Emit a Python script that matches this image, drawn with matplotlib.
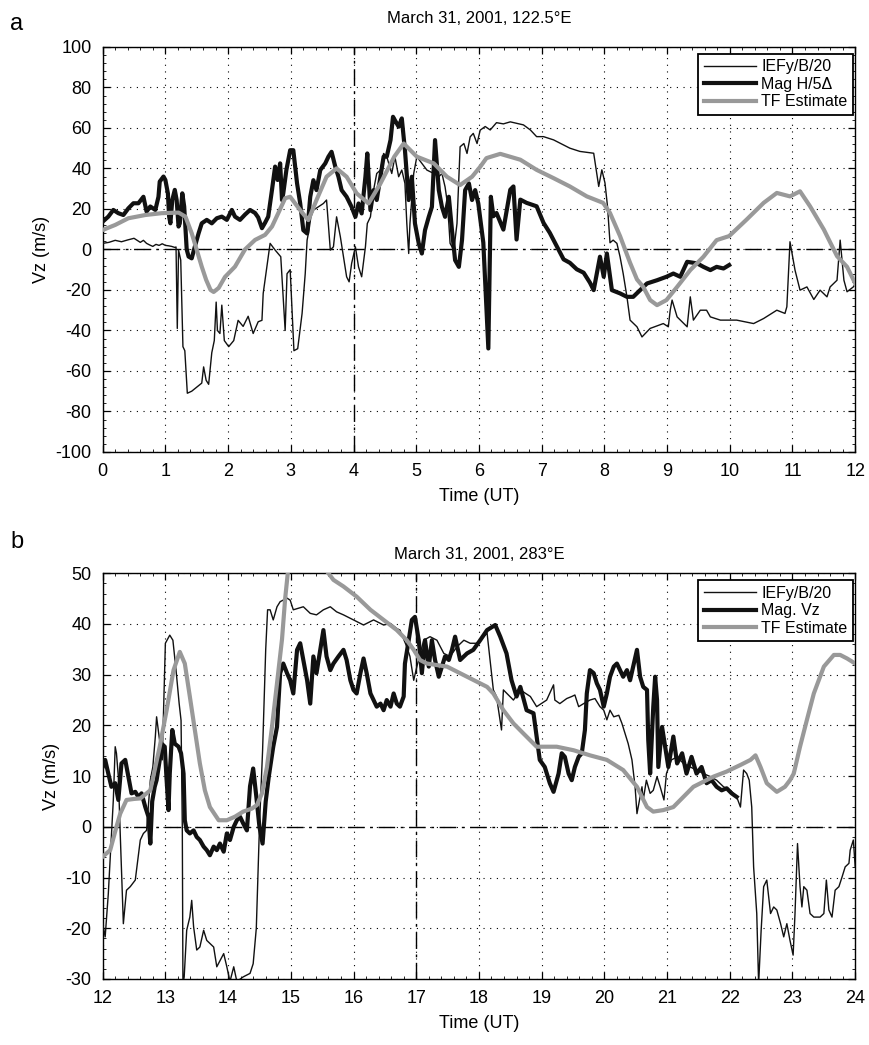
import numpy as np
import matplotlib
matplotlib.use("Agg")
import matplotlib.pyplot as plt
from matplotlib.ticker import MultipleLocator, AutoMinorLocator

plt.rcParams['font.family'] = ['Liberation Sans', 'DejaVu Sans']
plt.rcParams['axes.unicode_minus'] = False

######### panel a : March 31, 2001, 122.5E (0-12 UT)
# IEFy/B/20 (thin black)
t_a_ief = [0.0, 0.1, 0.2, 0.3, 0.4, 0.5, 0.55, 0.6, 0.65, 0.7, 0.75, 0.8, 0.85, 0.9, 0.95, 1.0,
           1.05, 1.1, 1.15, 1.17, 1.19, 1.21, 1.245, 1.28, 1.31, 1.35, 1.42, 1.5, 1.58, 1.61,
           1.65, 1.69, 1.74, 1.78, 1.81, 1.83, 1.87, 1.9, 1.94, 2.01, 2.09, 2.16, 2.24, 2.32,
           2.4, 2.48, 2.54, 2.56, 2.59, 2.62, 2.67, 2.75, 2.84, 2.91, 2.94, 2.99, 3.05, 3.11,
           3.18, 3.23, 3.26, 3.29, 3.32, 3.36, 3.52, 3.57, 3.63, 3.68, 3.73, 3.79, 3.84, 3.89,
           3.93, 3.97, 4.03, 4.08, 4.13, 4.19, 4.22, 4.27, 4.32, 4.37, 4.43, 4.48, 4.53, 4.61,
           4.66, 4.72, 4.77, 4.82, 4.85, 4.88, 4.9, 4.96, 5.01, 5.09, 5.17, 5.28, 5.36, 5.41,
           5.46, 5.49, 5.52, 5.54, 5.6, 5.65, 5.7, 5.76, 5.81, 5.86, 5.91, 5.97, 6.02, 6.1,
           6.18, 6.28, 6.39, 6.5, 6.6, 6.71, 6.82, 6.92, 7.03, 7.19, 7.35, 7.45, 7.61, 7.83,
           7.91, 7.96, 8.01, 8.05, 8.09, 8.14, 8.2, 8.25, 8.3, 8.36, 8.41, 8.52, 8.6, 8.73,
           8.94, 9.02, 9.05, 9.08, 9.16, 9.32, 9.37, 9.42, 9.53, 9.63, 9.69, 9.85, 10.11, 10.38,
           10.54, 10.75, 10.88, 10.91, 10.96, 11.04, 11.12, 11.23, 11.34, 11.44, 11.55, 11.6,
           11.71, 11.76, 11.82, 11.87, 11.97, 12.0]
v_a_ief = [3.0, 3.5, 4.5, 3.8, 4.7, 5.5, 4.5, 3.5, 4.5, 3.0, 2.2, 1.5, 2.5, 2.0, 2.8, 2.0,
           1.8, 1.5, 1.0, 1.2, -39, -0.3, -5.3, -48, -50, -71, -70, -68, -66, -58,
           -64.6, -66.6, -51, -45, -26, -40, -41.5, -27.5, -45, -48, -45, -35, -38, -33,
           -41.5, -35.7, -35, -21.7, -15, -8.6, 3, -0.3, -3.6, -40, -12, -10, -50, -49,
           -31.6, -12, 4.6, 9.5, 16, 19.4, 22.7, 24.4, -0.3, 1.3, 16.1, 6.3, -3.6, -13.5,
           -16, -6.9, 1.3, -8.6, -13.5, 1.3, 12.8, 16.1, 29.3, 37.5, 39.2, 47.4, 45.8, 37.5,
           45.8, 35.9, 39.2, 32.6, 12.8, -2, 12.8, 37.5, 45.8, 42.5, 39.2, 37.5, 35.9, 37.5,
           30.9, 24.4, 12.8, 3, -0.3, 12.8, 50.7, 52.3, 47.4, 55.6, 57.3, 52.3, 58.9, 60.7,
           59, 62.6, 62, 63, 62.3, 61.5, 59, 55.7, 55.7, 54.1, 51.6, 50, 48.4, 47.5,
           31.1, 39.3, 32.8, 21.3, 3.3, 4.6, 3, -3.6, -11.9, -23.4, -34.9, -38.2, -43.2, -39,
           -36.6, -38.2, -30, -25, -33.3, -38.2, -23.4, -34.9, -30, -30, -33.3, -34.9, -34.9, -36.6,
           -34.1, -30, -31.6, -28.3, 3.8, -10.2, -20.1, -18.5, -24.7, -20.1, -23.4, -18.5,
           -15.2, 4.6, -15.2, -20.9, -18.5, -17]

# Mag H/5Delta (thick black)
t_a_mag = [0.0, 0.09, 0.17, 0.25, 0.33, 0.41, 0.49, 0.57, 0.65, 0.7, 0.76, 0.84, 0.89, 0.91,
           0.97, 1.0, 1.04, 1.06, 1.08, 1.11, 1.15, 1.18, 1.21, 1.23, 1.27, 1.3, 1.34, 1.37,
           1.42, 1.47, 1.53, 1.58, 1.66, 1.74, 1.82, 1.9, 1.98, 2.06, 2.11, 2.19, 2.27, 2.35,
           2.43, 2.48, 2.54, 2.59, 2.64, 2.7, 2.75, 2.79, 2.83, 2.86, 2.88, 2.93, 2.99, 3.04,
           3.1, 3.15, 3.2, 3.26, 3.31, 3.36, 3.41, 3.47, 3.55, 3.6, 3.65, 3.71, 3.76, 3.81,
           3.89, 3.97, 4.03, 4.08, 4.13, 4.19, 4.22, 4.27, 4.32, 4.37, 4.43, 4.48, 4.53, 4.59,
           4.63, 4.66, 4.72, 4.77, 4.82, 4.88, 4.93, 4.98, 5.04, 5.09, 5.14, 5.2, 5.25, 5.3,
           5.36, 5.41, 5.46, 5.52, 5.57, 5.62, 5.68, 5.73, 5.78, 5.84, 5.89, 5.94, 5.99, 6.07,
           6.15, 6.19, 6.23, 6.28, 6.39, 6.5, 6.55, 6.6, 6.66, 6.76, 6.92, 7.03, 7.13, 7.24,
           7.35, 7.45, 7.56, 7.67, 7.77, 7.83, 7.93, 7.99, 8.04, 8.12, 8.25, 8.36, 8.46, 8.57,
           8.68, 8.84, 8.99, 9.1, 9.21, 9.32, 9.48, 9.58, 9.69, 9.79, 9.9, 9.99]
v_a_mag = [13.7, 16.2, 19.5, 17.9, 17.0, 20.3, 22.8, 22.8, 26.0, 18.7, 21.2, 19.5, 26.0, 33.5,
           36.0, 34.3, 27.7, 16.2, 12.9, 24.4, 29.4, 24.4, 11.3, 12.9, 27.7, 21.2, 0, -3.5,
           -4.4, 1.4, 8.0, 12.9, 14.6, 12.9, 15.4, 16.2, 14.6, 19.5, 16.2, 14.6, 17.2, 19.5,
           18.0, 15.8, 10.5, 13.2, 16.2, 29.4, 40.9, 34.3, 42.5, 24.4, 27.7, 39.3, 49, 49,
           32.6, 22.7, 9.5, 7.9, 26, 34.2, 29.3, 39.2, 42.5, 45.8, 48.2, 40.8, 35.9, 29.3,
           26, 21, 16.1, 22.7, 17.8, 35.9, 47.4, 19.4, 29.3, 24.4, 35.9, 45.8, 45.8, 54,
           65.5, 63.8, 60.6, 64.7, 49.1, 24.4, 35.9, 12.8, 3, -2, 9.5, 16.1, 21, 54,
           29.3, 21, 16.1, 26, 9.5, -5.3, -8.6, 4.6, 29.3, 32.6, 24.4, 29.3, 22.7, 3.3,
           -48.9, 26, 16.4, 18, 9.8, 29.5, 31.1, 4.9, 24.6, 23, 21.3, 13.1, 8.2, 1.6,
           -4.9, -6.6, -9.8, -11.5, -16.4, -20.1, -3.6, -13.5, -2, -20.1, -21.7, -23.4, -23.4, -20.1,
           -16.8, -15.2, -13.5, -11.9, -13.5, -6.1, -6.9, -8.6, -10.2, -8.6, -9.4, -7.7]

# TF Estimate (grey)
t_a_tf = [0.0, 0.2, 0.41, 0.68, 0.94, 1.21, 1.32, 1.42, 1.5, 1.58, 1.65, 1.72, 1.77, 1.85,
          1.95, 2.11, 2.27, 2.43, 2.59, 2.7, 2.8, 2.91, 2.99, 3.15, 3.28, 3.41, 3.57, 3.73,
          3.89, 4.05, 4.24, 4.43, 4.65, 4.8, 5.01, 5.28, 5.49, 5.7, 5.89, 6.02, 6.12, 6.34,
          6.66, 6.92, 7.19, 7.45, 7.72, 7.98, 8.09, 8.25, 8.41, 8.52, 8.62, 8.73, 8.84, 8.99,
          9.16, 9.37, 9.58, 9.79, 9.99, 10.27, 10.54, 10.75, 10.96, 11.12, 11.28, 11.5, 11.71,
          11.87, 12.0]
v_a_tf = [9.6, 12.1, 15.4, 17.0, 17.9, 18.2, 16.2, 8.0, -0.2, -8.5, -15, -20, -21, -19,
          -13.6, -8.5, 0, 4.7, 7.2, 11.3, 17.9, 25.3, 26, 19.4, 14.5, 24.4, 35.9, 40,
          35.9, 27.7, 22.7, 32.6, 45.8, 52.3, 45.8, 42.5, 35.9, 31.8, 35.9, 40.8, 45.1, 47.2,
          44.3, 39.3, 35.2, 31.1, 26.2, 23, 18, 6.6, -6.6, -14.8, -18.5, -25, -27.5, -25,
          -18.5, -10.2, -3.6, 4.6, 6.6, 14.8, 23, 27.9, 26.2, 28.7, 21.3, 9.8, -3.3,
          -8.6, -16.8]

######### panel b : March 31, 2001, 283E (12-24 UT)
t_b_ief = [12.0, 12.04, 12.09, 12.13, 12.17, 12.2, 12.22, 12.25, 12.28, 12.33, 12.38, 12.44,
           12.52, 12.6, 12.65, 12.7, 12.76, 12.8, 12.84, 12.86, 12.9, 12.95, 13.0, 13.07,
           13.12, 13.17, 13.22, 13.25, 13.27, 13.28, 13.3, 13.34, 13.39, 13.42, 13.45, 13.5,
           13.55, 13.61, 13.66, 13.71, 13.77, 13.82, 13.93, 13.98, 14.03, 14.09, 14.14, 14.24,
           14.35, 14.4, 14.45, 14.5, 14.55, 14.6, 14.63, 14.67, 14.72, 14.78, 14.83, 14.94,
           14.99, 15.04, 15.2, 15.31, 15.41, 15.52, 15.63, 15.73, 15.84, 16.0, 16.16, 16.32,
           16.48, 16.59, 16.69, 16.74, 16.85, 16.9, 16.96, 17.01, 17.12, 17.22, 17.33, 17.44,
           17.54, 17.65, 17.76, 17.86, 17.97, 18.13, 18.18, 18.23, 18.28, 18.36, 18.39, 18.55,
           18.66, 18.82, 18.92, 19.08, 19.19, 19.21, 19.29, 19.4, 19.48, 19.53, 19.59, 19.67,
           19.77, 19.85, 19.93, 19.99, 20.04, 20.09, 20.15, 20.23, 20.28, 20.33, 20.38, 20.44,
           20.49, 20.52, 20.56, 20.6, 20.62, 20.67, 20.73, 20.78, 20.84, 20.89, 20.95, 20.99,
           21.07, 21.16, 21.26, 21.37, 21.47, 21.58, 21.69, 21.79, 21.9, 22.01, 22.11, 22.17,
           22.22, 22.27, 22.31, 22.35, 22.38, 22.43, 22.46, 22.5, 22.54, 22.59, 22.65, 22.7,
           22.75, 22.81, 22.86, 22.91, 22.96, 23.01, 23.04, 23.08, 23.12, 23.15, 23.18, 23.23,
           23.28, 23.34, 23.44, 23.5, 23.54, 23.58, 23.63, 23.68, 23.74, 23.79, 23.84, 23.9,
           23.92, 23.97, 24.0]
v_b_ief = [-19.1, -21.7, -13.2, -3.9, 5.3, 15.8, 14.5, 9.9, -1.3, -19.1, -12.5, -11.8,
           -10.5, -2.6, -1.3, -0.7, 9.2, 11.8, 17.8, 21.7, 17.8, 13.2, 36.2, 37.8,
           36.8, 30.9, 24.3, 21, 0, -31, -29.6, -20.4, -17.8, -14.5, -19.7, -24.3,
           -23.7, -20.4, -22.4, -23.0, -23.7, -27.6, -25.0, -27.6, -30.5, -27.6, -30.5, -29.6,
           -28.9, -27.0, -20, 0, 15, 35, 42.8, 42.8, 40.8, 43.4, 44.4, 45.1,
           44.7, 42.8, 43.4, 42.1, 41.8, 42.8, 43.4, 42.4, 41.8, 40.8, 39.8, 40.8,
           39.8, 40.1, 39.1, 38.8, 35.5, 33.6, 28.9, 31.6, 36.8, 37.5, 36.8, 34.2,
           33.6, 35.5, 36.8, 36.2, 36.2, 38.2, 32.6, 27.0, 25.7, 19.1, 27.0, 25.0,
           27.0, 25.7, 23.7, 25.0, 28.0, 25.0, 24.3, 25.3, 25.7, 26.0, 23.7, 24.3,
           25.0, 25.3, 23.7, 23.0, 21.1, 23.0, 21.7, 22.0, 20.4, 18.4, 16.4, 13.2,
           7.9, 2.6, 5.3, 7.9, 5.3, 9.2, 6.6, 7.2, 9.9, 7.9, 5.3, 10.5,
           13.2, 13.8, 12.5, 11.8, 11.2, 10.5, 9.9, 9.2, 7.9, 7.2, 5.9, 3.9,
           11.2, 10.5, 9.2, 3.9, -7.9, -17.1, -31, -20.4, -11.8, -10.5, -17.1, -15.8,
           -16.4, -19.1, -21.7, -19.1, -22.4, -25.3, -17.1, -3.3, -11.8, -15.8, -11.8, -12.5,
           -17.1, -17.8, -17.8, -17.1, -10.5, -16.4, -17.8, -12.5, -11.8, -9.9, -7.9, -7.2,
           -4.6, -2.6, -7.9]

# Mag. Vz (thick black)
t_b_mag = [12.0, 12.04, 12.09, 12.14, 12.2, 12.25, 12.3, 12.36, 12.41, 12.46, 12.52, 12.57,
           12.62, 12.68, 12.73, 12.76, 12.79, 12.83, 12.86, 12.91, 12.94, 12.99, 13.02, 13.05,
           13.07, 13.11, 13.15, 13.21, 13.25, 13.29, 13.31, 13.34, 13.39, 13.45, 13.5, 13.55,
           13.61, 13.66, 13.71, 13.77, 13.82, 13.87, 13.93, 13.98, 14.03, 14.09, 14.14, 14.19,
           14.24, 14.3, 14.35, 14.4, 14.45, 14.5, 14.55, 14.6, 14.65, 14.72, 14.78, 14.83,
           14.88, 14.94, 14.99, 15.04, 15.1, 15.15, 15.2, 15.26, 15.31, 15.36, 15.41, 15.47,
           15.52, 15.57, 15.63, 15.68, 15.76, 15.84, 15.89, 15.95, 16.0, 16.05, 16.11, 16.16,
           16.21, 16.27, 16.32, 16.37, 16.43, 16.48, 16.53, 16.59, 16.64, 16.69, 16.74, 16.8,
           16.82, 16.88, 16.93, 16.98, 17.04, 17.09, 17.14, 17.2, 17.25, 17.3, 17.36, 17.41,
           17.46, 17.52, 17.57, 17.62, 17.7, 17.81, 17.91, 18.02, 18.13, 18.26, 18.34, 18.44,
           18.52, 18.6, 18.66, 18.76, 18.87, 18.97, 19.05, 19.13, 19.19, 19.27, 19.32, 19.37,
           19.43, 19.48, 19.53, 19.59, 19.64, 19.69, 19.72, 19.77, 19.83, 19.88, 19.93, 19.99,
           20.04, 20.09, 20.15, 20.2, 20.25, 20.3, 20.36, 20.41, 20.46, 20.52, 20.57, 20.62,
           20.68, 20.7, 20.73, 20.78, 20.81, 20.84, 20.86, 20.92, 20.97, 21.02, 21.1, 21.16,
           21.24, 21.31, 21.39, 21.47, 21.55, 21.63, 21.71, 21.79, 21.87, 21.95, 22.03, 22.11]
v_b_mag = [11.8, 13.2, 10.5, 7.9, 8.6, 5.3, 12.5, 13.2, 9.9, 6.6, 6.9, 5.9,
           6.6, 3.9, 2.0, -3.3, 5, 7.9, 9.2, 13.2, 16.4, 15.8, 9.2, 3.3,
           10.5, 19.1, 16.4, 15.8, 14.5, 10.5, 1.3, -0.7, -1.3, -0.7, -2.0, -2.6,
           -3.9, -4.6, -5.6, -3.9, -4.6, -3.3, -4.9, -1.3, -2.6, 0, 1.3, 2.0,
           0.7, -0.7, 8, 11.5, 6, 0, -3.3, 5, 10, 15.8, 19.7, 30.3,
           32.2, 30.3, 28.9, 26.3, 34.9, 36.2, 32.9, 28.9, 24.3, 33.6, 30.3, 34.9,
           38.8, 33.6, 30.9, 32.2, 33.6, 34.9, 32.9, 28.9, 27.0, 26.3, 30.3, 33.2,
           30.3, 26.3, 25.0, 23.7, 24.3, 23.0, 25.0, 23.7, 26.3, 24.3, 23.7, 25.7,
           32.2, 36.8, 40.8, 41.4, 36.8, 30.3, 36.8, 31.6, 36.8, 32.9, 29.6, 31.6,
           33.6, 32.9, 34.9, 37.5, 32.9, 34.2, 34.9, 36.8, 38.8, 39.8, 37.5, 34.2,
           28.9, 25.7, 27.6, 23.0, 22.4, 13.2, 11.8, 8.6, 6.9, 10.5, 14.5, 13.8,
           10.5, 9.2, 11.8, 13.8, 14.5, 19.1, 26.3, 30.9, 30.3, 28.3, 27.0, 23.7,
           26.3, 29.6, 31.6, 32.2, 30.9, 29.6, 30.9, 28.9, 31.6, 34.9, 29.6, 27.6,
           27.0, 17.1, 10.5, 23.7, 29.6, 25.0, 11.8, 19.7, 15.8, 11.8, 17.8, 12.5,
           14.5, 10.5, 13.8, 10.5, 11.8, 8.6, 9.2, 7.9, 7.2, 7.6, 6.6, 5.9]

# TF Estimate (grey)
t_b_tf = [12.0, 12.12, 12.22, 12.28, 12.38, 12.5, 12.6, 12.76, 12.91, 13.02, 13.13, 13.23,
          13.31, 13.39, 13.47, 13.55, 13.63, 13.71, 13.85, 13.98, 14.11, 14.24, 14.38, 14.46,
          14.54, 14.62, 14.7, 14.78, 14.86, 14.91, 14.96, 15.05, 15.2, 15.4, 15.57, 15.68,
          15.84, 16.05, 16.27, 16.48, 16.69, 16.85, 16.96, 17.06, 17.17, 17.33, 17.49, 17.65,
          17.81, 17.97, 18.13, 18.23, 18.39, 18.55, 18.71, 18.92, 19.24, 19.51, 19.77, 20.04,
          20.3, 20.52, 20.68, 20.78, 20.94, 21.1, 21.26, 21.42, 21.58, 21.74, 21.95, 22.17,
          22.33, 22.41, 22.49, 22.59, 22.75, 22.88, 22.96, 23.02, 23.12, 23.23, 23.34, 23.5,
          23.66, 23.76, 23.87, 24.0]
v_b_tf = [-5.9, -4.6, 0, 2.6, 5.3, 5.5, 5.6, 7.2, 15.8, 23, 30.9, 34.5,
          32.2, 25.7, 19.1, 12.5, 7.2, 3.9, 1.3, 1.3, 2.0, 3.0, 3.6, 4.3,
          6.6, 11.8, 19.7, 28.3, 37, 45, 51, 57, 60, 57, 50.5, 48.7,
          47.4, 45.4, 42.8, 40.8, 38.8, 36.8, 34.9, 32.9, 32.2, 31.9, 31.6, 30.6,
          29.6, 28.6, 27.6, 26.3, 23, 20.4, 18.4, 15.8, 15.8, 15.1, 14.1, 13.2,
          11.2, 7.9, 3.9, 3.0, 3.3, 3.9, 5.9, 7.9, 8.9, 9.9, 10.9, 12.2,
          13.2, 14.1, 11.8, 8.6, 6.9, 7.9, 9.2, 10.5, 15.8, 21.1, 26.3, 31.6,
          33.9, 33.9, 33.2, 32.2]

grid_ls = (0, (1, 5))
dashdot = (0, (12, 4, 2, 4))


def style_axes(ax, xlim, ylim, ystep, vline):
    ax.set_xlim(xlim)
    ax.set_ylim(ylim)
    ax.xaxis.set_major_locator(MultipleLocator(1))
    ax.yaxis.set_major_locator(MultipleLocator(ystep))
    ax.xaxis.set_minor_locator(AutoMinorLocator(5))
    ax.yaxis.set_minor_locator(AutoMinorLocator(5))
    ax.grid(True, which='major', linestyle=grid_ls, color='k', linewidth=0.8)
    ax.tick_params(which='both', direction='in', top=True, right=True, labelsize=13, pad=8)
    ax.tick_params(which='major', length=5, width=0.9)
    ax.tick_params(which='minor', length=2.5, width=0.6)
    ax.axhline(0, color='k', linestyle=dashdot, linewidth=1.0, zorder=1.5)
    ax.axvline(vline, color='k', linestyle=dashdot, linewidth=1.0, zorder=1.5)
    for s in ax.spines.values():
        s.set_linewidth(1.0)
    ax.set_xlabel('Time (UT)', fontsize=13, labelpad=6)
    ax.set_ylabel('Vz (m/s)', fontsize=13, labelpad=4)


fig = plt.figure(figsize=(8.7, 10.45), dpi=100)

ax1 = fig.add_axes([0.118, 0.5675, 0.865, 0.3876])
ax1.plot(t_a_ief, v_a_ief, color='#111111', lw=1.0, label='IEFy/B/20', zorder=3)
ax1.plot(t_a_mag, v_a_mag, color='#111111', lw=3.0, label='Mag H/5\u0394', zorder=4)
ax1.plot(t_a_tf, v_a_tf, color='#999999', lw=3.0, label='TF Estimate', zorder=5)
style_axes(ax1, (0, 12), (-100, 100), 20, 4)
ax1.set_title('March 31, 2001, 122.5\u00b0E', fontsize=12, pad=17)

ax2 = fig.add_axes([0.118, 0.0632, 0.865, 0.3882])
ax2.plot(t_b_ief, v_b_ief, color='#111111', lw=1.0, label='IEFy/B/20', zorder=3)
ax2.plot(t_b_mag, v_b_mag, color='#111111', lw=3.0, label='Mag. Vz', zorder=4)
ax2.plot(t_b_tf, v_b_tf, color='#999999', lw=3.0, label='TF Estimate', zorder=5)
style_axes(ax2, (12, 24), (-30, 50), 10, 17)
ax2.set_title('March 31, 2001, 283\u00b0E', fontsize=12, pad=10)

for ax in (ax1, ax2):
    leg = ax.legend(loc='upper right', bbox_to_anchor=(0.997, 0.983), fontsize=11.5,
                    frameon=True, fancybox=False, edgecolor='k', framealpha=1,
                    borderaxespad=0.0, handlelength=3.3, handletextpad=0.3,
                    labelspacing=0.15, borderpad=0.35)
    leg.get_frame().set_linewidth(1.3)

fig.text(0.012, 0.988, 'a', fontsize=17, va='top', ha='left')
fig.text(0.012, 0.492, 'b', fontsize=17, va='top', ha='left')

fig.savefig('out.png', dpi=100)
